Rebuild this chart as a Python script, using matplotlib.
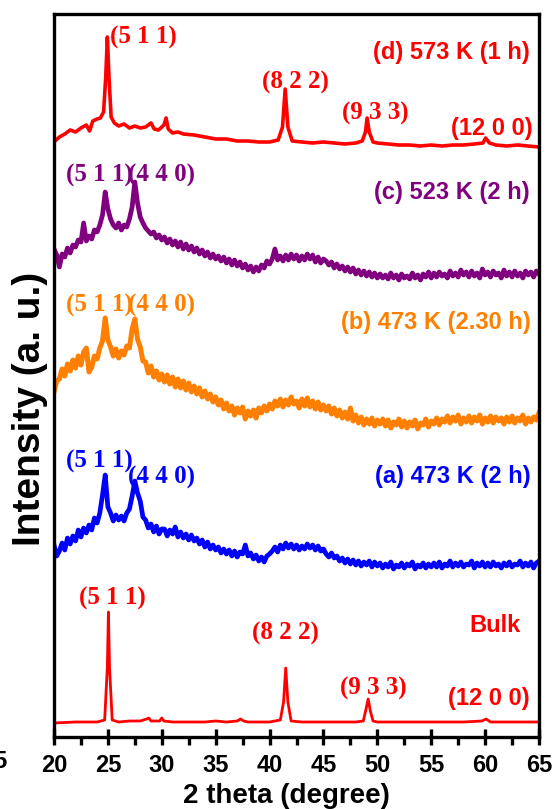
import numpy as np
import matplotlib
matplotlib.use("Agg")
import matplotlib.pyplot as plt
from matplotlib.ticker import MultipleLocator

# ---------------- data (2 theta in degree, intensity in a.u.) ----------------
theta_grid = np.arange(20.0, 65.001, 0.25)

int_a = [192, 181, 186, 194, 187, 199, 193, 201, 196, 207, 200, 209, 204, 212, 207, 219, 214, 224, 242, 262, 230,
         224, 216, 222, 217, 221, 216, 224, 228, 241, 256, 244, 236, 220, 217, 209, 213, 205, 211, 203, 208,
         208, 201, 207, 203, 210, 200, 205, 199, 203, 197, 202, 196, 199, 193, 197, 190, 195, 188, 192, 187,
         190, 184, 188, 183, 187, 181, 186, 180, 185, 183, 192, 181, 184, 178, 182, 176, 180, 175, 181, 183,
         186, 190, 185, 192, 188, 194, 189, 193, 188, 192, 187, 191, 188, 193, 189, 192, 187, 191, 186, 188,
         183, 180, 184, 179, 181, 176, 179, 174, 178, 173, 177, 172, 176, 171, 175, 172, 176, 170, 175, 171,
         174, 169, 173, 170, 175, 168, 172, 170, 174, 169, 173, 171, 175, 168, 172, 170, 174, 169, 173, 170,
         174, 170, 175, 169, 173, 171, 176, 170, 174, 171, 175, 170, 173, 172, 176, 169, 174, 171, 175, 170,
         174, 170, 175, 171, 173, 169, 174, 171, 175, 170, 173, 172, 176, 170, 174, 171, 175, 169, 174, 176]

int_b = [345, 356, 358, 368, 361, 373, 366, 377, 369, 381, 372, 385, 389, 365, 370, 381, 378, 389, 396, 419, 397,
         390, 381, 388, 379, 386, 382, 391, 389, 408, 418, 398, 390, 376, 375, 364, 371, 360, 366, 357, 363,
         355, 362, 353, 360, 350, 358, 349, 356, 347, 354, 345, 351, 343, 349, 340, 346, 338, 343, 335, 340,
         332, 337, 328, 334, 326, 331, 322, 329, 324, 330, 318, 326, 321, 327, 319, 329, 324, 331, 326, 333,
         328, 336, 331, 338, 330, 337, 332, 340, 333, 336, 329, 338, 331, 339, 330, 336, 328, 335, 327, 332,
         326, 331, 323, 329, 321, 327, 319, 325, 318, 329, 316, 322, 314, 320, 312, 318, 313, 319, 311, 317,
         313, 318, 311, 317, 309, 315, 312, 318, 310, 316, 309, 315, 311, 317, 308, 314, 312, 318, 310, 316,
         313, 319, 312, 318, 315, 321, 314, 320, 316, 322, 313, 319, 315, 321, 314, 320, 316, 322, 313, 319,
         315, 321, 314, 320, 316, 319, 313, 320, 315, 321, 314, 319, 316, 322, 313, 319, 315, 320, 317, 324]

int_c = [488, 482, 470, 483, 480, 489, 484, 492, 490, 497, 495, 514, 496, 501, 498, 507, 505, 512, 522, 545, 528,
         518, 512, 509, 514, 507, 512, 510, 518, 530, 555, 534, 520, 514, 509, 506, 503, 505, 499, 502, 497,
         500, 494, 498, 492, 496, 490, 495, 488, 493, 487, 491, 485, 489, 483, 487, 481, 485, 479, 483, 478,
         481, 476, 480, 474, 478, 472, 477, 471, 475, 469, 473, 467, 471, 465, 470, 466, 472, 469, 476, 473,
         478, 488, 477, 481, 476, 482, 477, 483, 478, 482, 476, 481, 477, 483, 478, 482, 475, 480, 474, 478,
         476, 472, 475, 469, 473, 468, 471, 466, 470, 465, 469, 463, 467, 462, 466, 461, 465, 460, 464, 459,
         463, 459, 462, 458, 464, 459, 462, 457, 463, 459, 461, 458, 464, 459, 462, 457, 463, 460, 465, 459,
         464, 460, 465, 461, 463, 459, 466, 461, 464, 460, 467, 462, 465, 460, 466, 461, 464, 459, 468, 462,
         465, 460, 466, 462, 464, 459, 467, 461, 465, 460, 466, 461, 464, 459, 466, 462, 465, 460, 466, 463]

theta_d = [20, 20.5, 21, 21.5, 22, 22.5, 23, 23.3, 23.6, 24.0, 24.3, 24.6, 24.8, 24.95, 25.1, 25.3, 25.6, 26,
           26.5, 27, 27.5, 28, 28.5, 29.0, 29.3, 29.7, 30.2, 30.4, 30.6, 31, 31.5, 32, 33, 34, 35, 36, 37, 38,
           39, 40, 40.8, 41.2, 41.45, 41.7, 42.1, 43, 44, 45, 46, 47, 48, 48.6, 48.9, 49.05, 49.25, 49.6, 50,
           51, 52, 53, 54, 55, 56, 57, 58, 59, 59.8, 60.05, 60.4, 61, 62, 63, 64, 65]
int_d = [595, 600, 603, 607, 605, 609, 612, 606, 616, 618, 619, 625, 660, 700, 660, 620, 614, 611,
         613, 609, 611, 609, 610, 614, 608, 607, 612, 619, 608, 604, 605, 603, 602, 600, 598, 598, 596, 596,
         595, 595, 597, 610, 648, 610, 596, 595, 594, 595, 594, 593, 594, 596, 605, 619, 605, 595, 594,
         593, 592, 592, 591, 592, 591, 592, 592, 593, 594, 599, 594, 592, 591, 592, 591, 590]

theta_bulk = [20, 22, 24, 24.7, 24.95, 25.05, 25.15, 25.4, 26, 27, 28, 28.6, 28.8, 29.0, 29.8, 30.0, 30.2, 31,
              32, 33, 34, 35, 36, 37, 37.3, 37.6, 38, 39, 40, 41.0, 41.3, 41.5, 41.7, 42.0, 43, 44, 45, 46,
              47, 48, 48.7, 48.95, 49.15, 49.35, 49.6, 50, 52, 54, 56, 58, 59.7, 60.1, 60.5, 62, 64, 65]
int_bulk = [14, 15, 15, 17, 70, 125, 70, 17, 15, 16, 16, 18, 19, 16, 16, 19, 16, 15,
            15, 15, 15, 16, 15, 16, 18, 16, 15, 15, 15, 17, 35, 69, 35, 16, 15, 15, 15, 15,
            15, 15, 16, 28, 38, 26, 16, 15, 15, 15, 15, 15, 16, 18, 15, 15, 15, 15]

xticks = [20, 25, 30, 35, 40, 45, 50, 55, 60, 65]

RED, PURPLE, ORANGE, BLUE = "#FF0000", "#800080", "#FF8000", "#0000FF"

# ---------------- figure ----------------
fig = plt.figure(figsize=(5.56, 8.09), dpi=100)
ax = fig.add_axes([54 / 556, 1 - 737 / 809, 485 / 556, 723 / 809])

ax.plot(theta_bulk, int_bulk, color=RED, lw=2.0)
ax.plot(theta_grid, int_a, color=BLUE, lw=3.4)
ax.plot(theta_grid, int_b, color=ORANGE, lw=3.6)
ax.plot(theta_grid, int_c, color=PURPLE, lw=3.4)
ax.plot(theta_d, int_d, color=RED, lw=2.6)

ax.set_xlim(20, 65)
ax.set_ylim(0, 723)
ax.set_xticks(xticks)
ax.xaxis.set_minor_locator(MultipleLocator(2.5))
ax.set_yticks([])
for s in ax.spines.values():
    s.set_linewidth(2.4)
ax.tick_params(axis="x", which="major", direction="inout", length=12, width=2.4, pad=6)
ax.tick_params(axis="x", which="minor", direction="out", length=6, width=2.4)

sans = "Liberation Sans"
serif = "Liberation Serif"
for lab in ax.get_xticklabels():
    lab.set_fontfamily(sans)
    lab.set_fontweight("bold")
    lab.set_fontsize(17)

ax.set_xlabel("2 theta (degree)", fontfamily=sans, fontweight="bold", fontsize=20)
ax.xaxis.set_label_coords(0.48, -0.063)
ax.set_ylabel("Intensity (a. u.)", fontfamily=sans, fontweight="bold", fontsize=28)
ax.yaxis.set_label_coords(-0.012, 0.454)

fig.text(8 / 556, 1 - 762 / 809, "15", ha="right", va="center", fontfamily=sans,
         fontweight="bold", fontsize=17)

def miller(x, y, s, c):
    ax.text(x, y, s, color=c, ha="center", va="center", fontfamily=serif,
            fontweight="bold", fontsize=18)

def sans_lab(x, y, s, c, ha="right"):
    ax.text(x, y, s, color=c, ha=ha, va="center", fontfamily=sans,
            fontweight="bold", fontsize=17)

# (d)
miller(28.26, 700, "(5 1 1)", RED)
miller(42.36, 655, "(8 2 2)", RED)
miller(49.78, 624, "(9 3 3)", RED)
sans_lab(60.64, 609, "(12 0 0)", RED, ha="center")
sans_lab(64.17, 684, "(d) 573 K (1 h)", RED)
# (c)
miller(24.18, 562, "(5 1 1)", PURPLE)
miller(29.97, 562, "(4 4 0)", PURPLE)
sans_lab(64.17, 544, "(c) 523 K (2 h)", PURPLE)
# (b)
miller(24.18, 432, "(5 1 1)", ORANGE)
miller(29.97, 432, "(4 4 0)", ORANGE)
sans_lab(64.26, 415, "(b) 473 K (2.30 h)", ORANGE)
# (a)
miller(24.22, 276, "(5 1 1)", BLUE)
miller(29.93, 260, "(4 4 0)", BLUE)
sans_lab(64.26, 260, "(a) 473 K (2 h)", BLUE)
# bulk
miller(25.43, 139, "(5 1 1)", RED)
miller(41.44, 104, "(8 2 2)", RED)
miller(49.65, 49, "(9 3 3)", RED)
sans_lab(60.36, 39, "(12 0 0)", RED, ha="center")
sans_lab(60.92, 112, "Bulk", RED, ha="center")

fig.savefig("out.png", dpi=100)
